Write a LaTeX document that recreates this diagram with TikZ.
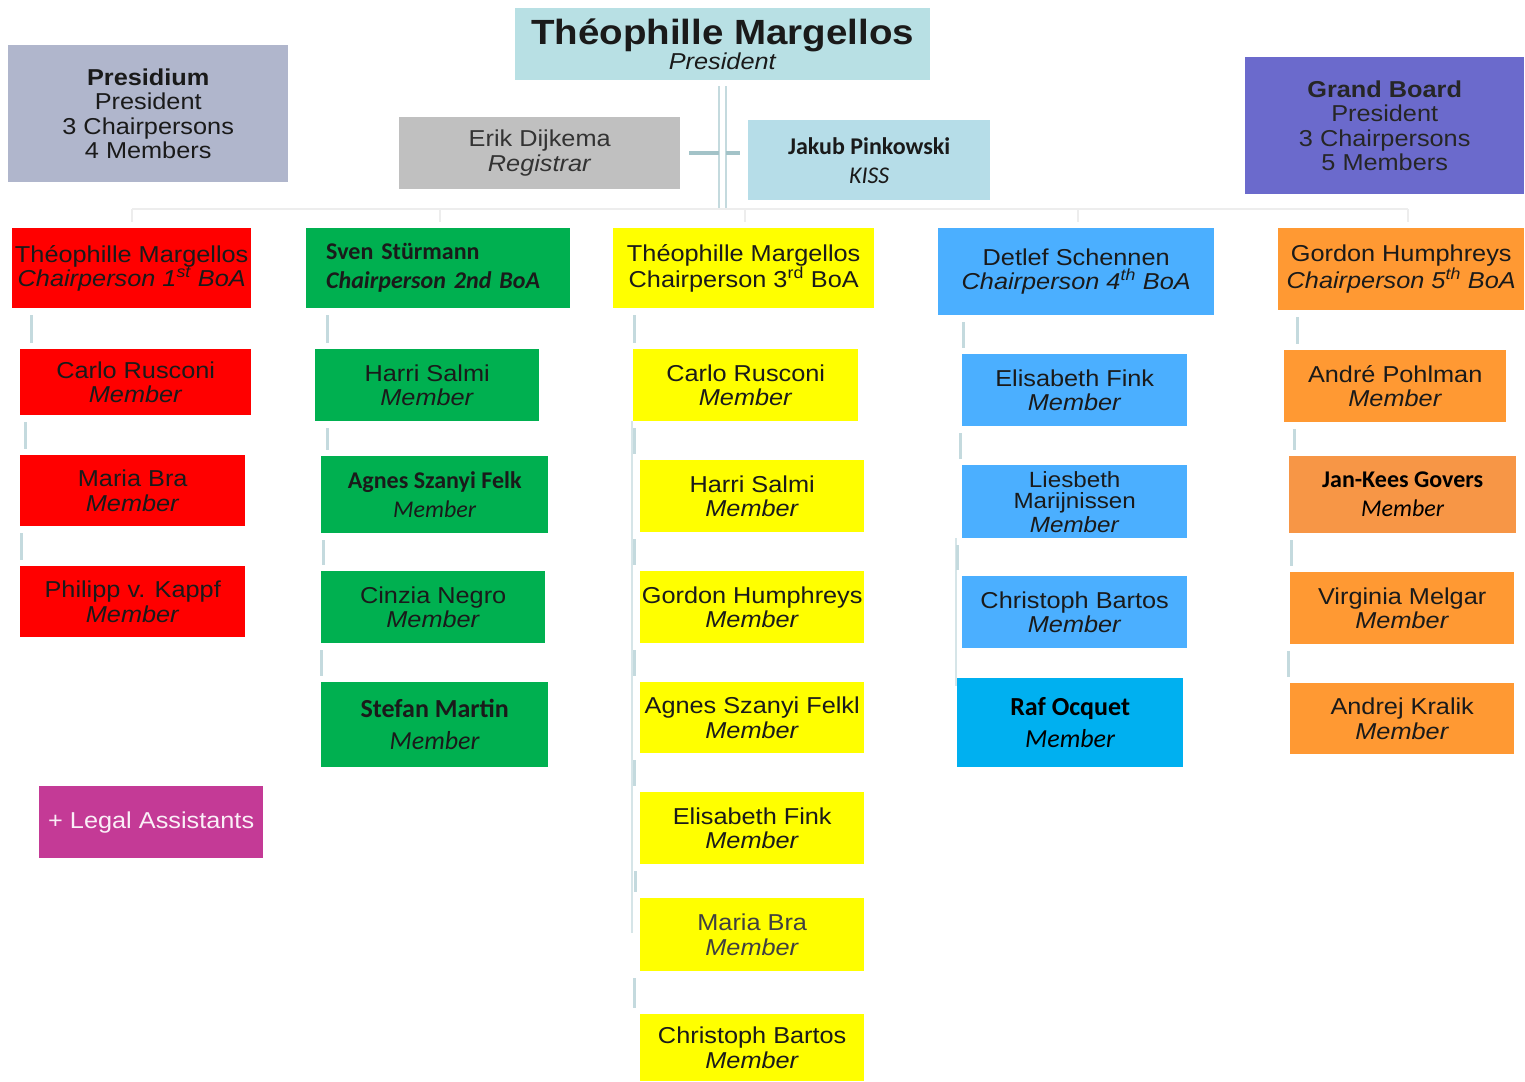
\documentclass[tikz,border=0pt]{standalone}
\usepackage{fontspec}
\setmainfont{Liberation Sans}
\newfontfamily\arialf[FakeStretch=1.1]{Liberation Sans}
\newfontfamily\calf{Carlito}
\definecolor{ink}{HTML}{1A1A1A}
\definecolor{presc}{HTML}{B8E0E4}
\definecolor{presid}{HTML}{B0B6CC}
\definecolor{erikc}{HTML}{C0C0C0}
\definecolor{kissc}{HTML}{B6DDE8}
\definecolor{grandc}{HTML}{6B6ACC}
\definecolor{redc}{HTML}{FF0000}
\definecolor{greenc}{HTML}{00B050}
\definecolor{yellowc}{HTML}{FFFF00}
\definecolor{bluec}{HTML}{4BAFFF}
\definecolor{rafc}{HTML}{00B0F0}
\definecolor{orangec}{HTML}{FF9933}
\definecolor{jkc}{HTML}{F79646}
\definecolor{legalc}{HTML}{C43A96}
\definecolor{connc}{HTML}{C4DADE}
\definecolor{stubc}{HTML}{A3C3C8}
\definecolor{busc}{HTML}{EDEDED}
\tikzset{
  box/.style={rectangle, inner sep=0pt, anchor=north west, align=center, text=ink,
    font=\arialf\fontsize{23}{24.5}\selectfont},
  cbox/.style={box, font=\calf\fontsize{24}{29}\selectfont},
  bigcbox/.style={box, font=\calf\fontsize{26}{32}\selectfont},
  conn/.style={draw=connc, line width=3pt, shorten <=7pt, shorten >=6pt},
  thinconn/.style={draw=connc!70, line width=1.2pt},
  bus/.style={draw=busc, line width=2.5pt},
  topline/.style={draw=connc, line width=2pt},
  stub/.style={draw=stubc, line width=4pt}
}
\newcommand\obox[8][]{\node[box,fill=#7,minimum width={#5-#3},minimum height={#6-#4},#1] (#2) at (#3,#4) {#8};}
\newcommand\mylink[3]{\coordinate (lk) at (#3,0); \draw[conn] (#1.south -| lk) -- (#2.north -| lk);}
\newcommand\mem{\\\textit{Member}}
\begin{document}
\begin{tikzpicture}[x=1pt,y=-1pt]
\useasboundingbox (0,0) rectangle (1525,1081);
\fill[white] (0,0) rectangle (1525,1081);

% top level
\obox{pres}{515}{8}{930}{80}{presc}{{\bfseries\fontsize{35}{36}\selectfont Théophille Margellos}\\[1pt]\textit{President}}
\obox{presidium}{8}{45}{288}{182}{presid}{\textbf{Presidium}\\President\\3 Chairpersons\\4 Members}
\obox[text=black!80]{erik}{399}{117}{680}{189}{erikc}{Erik Dijkema\\\textit{Registrar}}
\obox[cbox]{kiss}{748}{120}{990}{200}{kissc}{\textbf{Jakub Pinkowski}\\\textit{KISS}}
\obox[text=black!85]{grand}{1245}{57}{1524}{194}{grandc}{\textbf{Grand Board}\\President\\3 Chairpersons\\5 Members}

% chairpersons
\obox{c1}{12}{228}{251}{308}{redc}{Théophille Margellos\\\textit{Chairperson 1\textsuperscript{st} BoA}}
\obox[cbox,align=left,text width=224pt]{c2}{306}{228}{570}{308}{greenc}{\bfseries Sven Stürmann\\\bfseries\itshape Chairperson 2nd BoA}
\obox{c3}{613}{228}{874}{308}{yellowc}{Théophille Margellos\\Chairperson 3\textsuperscript{rd} BoA}
\obox{c4}{938}{228}{1214}{315}{bluec}{Detlef Schennen\\\textit{Chairperson 4\textsuperscript{th} BoA}}
\obox{c5}{1278}{228}{1524}{310}{orangec}{Gordon Humphreys\\\textit{Chairperson 5\textsuperscript{th} BoA}}

% red column
\obox{r1}{20}{349}{251}{415}{redc}{Carlo Rusconi\mem}
\obox{r2}{20}{455}{245}{526}{redc}{Maria Bra\mem}
\obox{r3}{20}{566}{245}{637}{redc}{Philipp v. Kappf\mem}
\obox[text=white!92!legalc]{legal}{39}{786}{263}{858}{legalc}{+ Legal Assistants}

% green column
\obox{g1}{315}{349}{539}{421}{greenc}{Harri Salmi\mem}
\obox[cbox]{g2}{321}{456}{548}{533}{greenc}{\textbf{Agnes Szanyi Felk}\mem}
\obox{g3}{321}{571}{545}{643}{greenc}{Cinzia Negro\mem}
\obox[bigcbox]{g4}{321}{682}{548}{767}{greenc}{\textbf{Stefan Martin}\mem}

% yellow column
\obox{y1}{633}{349}{858}{421}{yellowc}{Carlo Rusconi\mem}
\obox{y2}{640}{460}{864}{532}{yellowc}{Harri Salmi\mem}
\obox{y3}{640}{571}{864}{643}{yellowc}{Gordon Humphreys\mem}
\obox{y4}{640}{682}{864}{753}{yellowc}{Agnes Szanyi Felkl\mem}
\obox{y5}{640}{792}{864}{864}{yellowc}{Elisabeth Fink\mem}
\obox[text=black!75]{y6}{640}{898}{864}{971}{yellowc}{Maria Bra\mem}
\obox{y7}{640}{1014}{864}{1081}{yellowc}{Christoph Bartos\mem}

% blue column
\obox{b1}{962}{354}{1187}{426}{bluec}{Elisabeth Fink\mem}
\obox[font=\arialf\fontsize{22}{24}\selectfont]{b2}{962}{465}{1187}{538}{bluec}{Liesbeth\\[-3pt]Marijnissen\mem}
\obox{b3}{962}{576}{1187}{648}{bluec}{Christoph Bartos\mem}
\obox[bigcbox,text=black]{b4}{957}{678}{1183}{767}{rafc}{\textbf{Raf Ocquet}\mem}

% orange column
\obox{o1}{1284}{350}{1506}{422}{orangec}{André Pohlman\mem}
\obox[cbox,text=black]{o2}{1289}{456}{1516}{533}{jkc}{\textbf{Jan-Kees Govers}\mem}
\obox{o3}{1290}{572}{1514}{644}{orangec}{Virginia Melgar\mem}
\obox{o4}{1290}{683}{1514}{754}{orangec}{Andrej Kralik\mem}

% top connectors
\coordinate (tv) at (722,0);
\coordinate (busl) at (132,209);
\coordinate (busr) at (1408,209);
\draw[topline,shorten <=6pt] ([xshift=-3.5pt]pres.south -| tv) -- ([xshift=-3.5pt]busl -| tv);
\draw[topline,shorten <=6pt] ([xshift=3.5pt]pres.south -| tv) -- ([xshift=3.5pt]busl -| tv);
\draw[stub] ([xshift=9pt]erik.east) -- ([xshift=-3.5pt]erik.east -| tv);
\draw[stub] ([xshift=3.5pt]erik.east -| tv) -- ([xshift=-8pt]kiss.west |- erik.east);
\draw[bus] (busl) -- (busr);
\foreach \c/\xx in {c1/132,c2/440,c3/745,c4/1078,c5/1408}{
  \coordinate (dx) at (\xx,0);
  \draw[bus,shorten >=6pt] (busl -| dx) -- (\c.north -| dx);
}

% column connectors
\mylink{c1}{r1}{31}
\mylink{r1}{r2}{25}
\mylink{r2}{r3}{21}
\mylink{c2}{g1}{327}
\mylink{g1}{g2}{327}
\mylink{g2}{g3}{323}
\mylink{g3}{g4}{321}
\coordinate (ylx) at (632,0);
\draw[thinconn] (y1.south -| ylx) -- ([yshift=-35pt]y6.north -| ylx);
\mylink{c3}{y1}{634}
\mylink{y1}{y2}{634}
\mylink{y2}{y3}{634}
\mylink{y3}{y4}{634}
\mylink{y4}{y5}{634}
\mylink{y5}{y6}{635}
\mylink{y6}{y7}{634}
\coordinate (blx) at (956,0);
\draw[thinconn] (b2.south -| blx) -- ([yshift=-8pt]b4.north -| blx);
\mylink{c4}{b1}{963}
\mylink{b1}{b2}{960}
\mylink{b2}{b3}{957}
\mylink{c5}{o1}{1297}
\mylink{o1}{o2}{1294}
\mylink{o2}{o3}{1291}
\mylink{o3}{o4}{1288}
\end{tikzpicture}
\end{document}
